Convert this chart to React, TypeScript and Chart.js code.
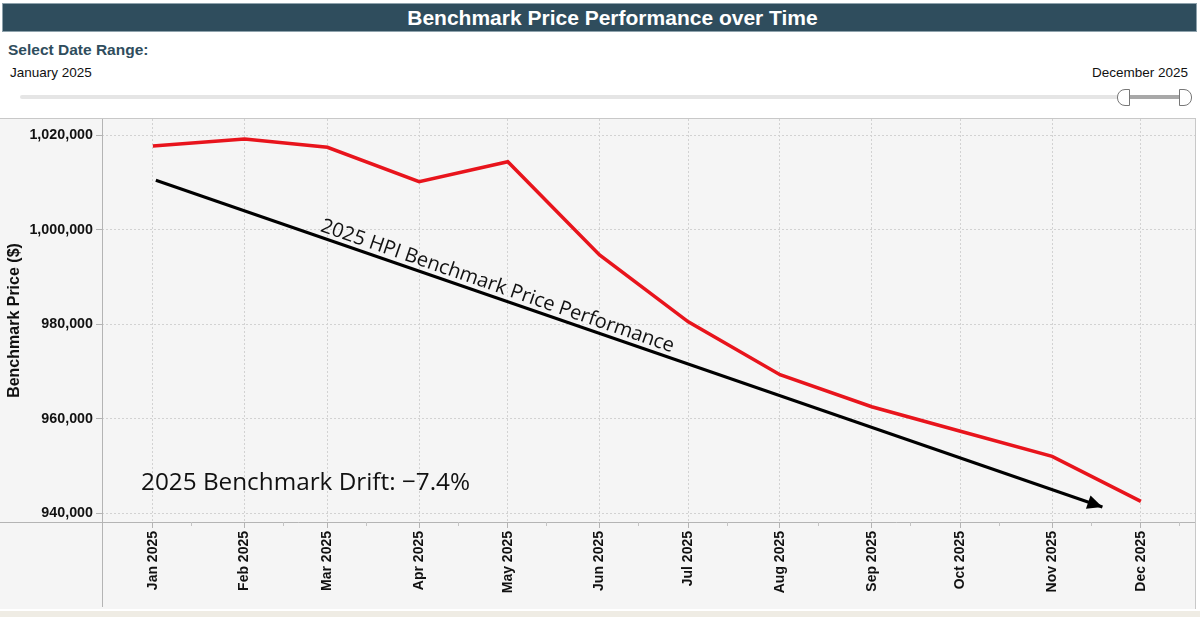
import React, { useEffect, useRef } from "react";
import { Chart, registerables } from "chart.js";

Chart.register(...registerables);

// ---------- data ----------
const monthLabels = [
  "Jan 2025", "Feb 2025", "Mar 2025", "Apr 2025", "May 2025", "Jun 2025",
  "Jul 2025", "Aug 2025", "Sep 2025", "Oct 2025", "Nov 2025", "Dec 2025",
];
const monthDates = [
  "2025-01-01", "2025-02-01", "2025-03-01", "2025-04-01", "2025-05-01", "2025-06-01",
  "2025-07-01", "2025-08-01", "2025-09-01", "2025-10-01", "2025-11-01", "2025-12-01",
];
const benchmarkPrice = [
  1017780, 1019260, 1017500, 1010220, 1014450, 994700,
  980520, 969300, 962530, 957340, 952000, 942480,
];
const trendDates = ["2025-01-02", "2025-11-18"];
const trendValues = [1010520, 941270];
const minorTickDates = [
  "2025-01-14", "2025-02-14", "2025-03-14", "2025-04-14", "2025-05-14", "2025-06-14",
  "2025-07-14", "2025-08-14", "2025-09-14", "2025-10-14", "2025-11-14", "2025-12-14",
];
const yTickValues = [940000, 960000, 980000, 1000000, 1020000];
const yRange = [938100, 1023500];
const xRangeDays = [-17.2, 352.3];

const titleText = "Benchmark Price Performance over Time";
const yAxisTitle = "Benchmark Price ($)";
const trendLabel = "2025 HPI Benchmark Price Performance";
const driftLabel = "2025 Benchmark Drift: \u22127.4%";
const rangeStartLabel = "January 2025";
const rangeEndLabel = "December 2025";

const DAY = 86400000;
const dayOf = (d: string) => (Date.parse(d) - Date.parse("2025-01-01")) / DAY;
const monthDays = monthDates.map(dayOf);

const SANS = "'Liberation Sans', Arial, Helvetica, sans-serif";

const overlayPlugin = {
  id: "overlay",
  afterDatasetsDraw(chart: any) {
    const { ctx, chartArea, scales } = chart;
    const xs = scales.x;
    const ys = scales.y;
    // arrow head on trend line
    const x0 = xs.getPixelForValue(dayOf(trendDates[0]));
    const y0 = ys.getPixelForValue(trendValues[0]);
    const x1 = xs.getPixelForValue(dayOf(trendDates[1]));
    const y1 = ys.getPixelForValue(trendValues[1]);
    const ang = Math.atan2(y1 - y0, x1 - x0);
    ctx.save();
    ctx.fillStyle = "#000";
    const hl = 15, hw = 7;
    ctx.beginPath();
    ctx.moveTo(x1, y1);
    ctx.lineTo(x1 - hl * Math.cos(ang) + hw * Math.sin(ang), y1 - hl * Math.sin(ang) - hw * Math.cos(ang));
    ctx.lineTo(x1 - hl * Math.cos(ang) - hw * Math.sin(ang), y1 - hl * Math.sin(ang) + hw * Math.cos(ang));
    ctx.closePath();
    ctx.fill();

    // rotated label along trend line
    const t = 0.171;
    const off = 5.5;
    const px = x0 + t * (x1 - x0) + off * Math.sin(ang);
    const py = y0 + t * (y1 - y0) - off * Math.cos(ang);
    ctx.translate(px, py);
    ctx.rotate(ang);
    ctx.font = "20px 'Open Sans'";
    ctx.fillStyle = "#111";
    ctx.textAlign = "left";
    ctx.textBaseline = "alphabetic";
    ctx.fillText(trendLabel, 0, 0);
    ctx.restore();

    // drift text
    ctx.save();
    ctx.font = "24.3px 'Open Sans'";
    ctx.fillStyle = "#111";
    ctx.textAlign = "left";
    ctx.textBaseline = "alphabetic";
    ctx.fillText(driftLabel, chartArea.left + 39, chartArea.top + 371);
    ctx.restore();
  },
  afterDraw(chart: any) {
    const { ctx, chartArea, scales } = chart;
    ctx.save();
    ctx.strokeStyle = "#b4b4b4";
    ctx.lineWidth = 1;
    ctx.beginPath();
    ctx.moveTo(0, Math.round(chartArea.bottom) + 0.5);
    ctx.lineTo(chartArea.right, Math.round(chartArea.bottom) + 0.5);
    ctx.moveTo(Math.round(chartArea.left) + 0.5, 0);
    ctx.lineTo(Math.round(chartArea.left) + 0.5, chart.height - 2);
    ctx.stroke();
    // minor ticks
    ctx.strokeStyle = "#c4c4c4";
    ctx.beginPath();
    minorTickDates.forEach((d) => {
      const x = Math.round(scales.x.getPixelForValue(dayOf(d))) + 0.5;
      ctx.moveTo(x, chartArea.bottom);
      ctx.lineTo(x, chartArea.bottom + 4);
    });
    ctx.stroke();
    ctx.restore();
  },
};

export default function App() {
  const canvasRef = useRef<HTMLCanvasElement | null>(null);

  useEffect(() => {
    document.body.style.margin = "0";
    const canvas = canvasRef.current;
    if (!canvas) return;
    const chart = new Chart(canvas, {
      type: "line",
      data: {
        datasets: [
          {
            label: "Benchmark Price",
            data: monthDays.map((d, i) => ({ x: d, y: benchmarkPrice[i] })),
            borderColor: "#e8141c",
            borderWidth: 3.5,
            pointRadius: 0,
            tension: 0,
            fill: false,
          },
          {
            label: "Trend",
            data: trendDates.map((d, i) => ({ x: dayOf(d), y: trendValues[i] })),
            borderColor: "#000",
            borderWidth: 3,
            pointRadius: 0,
            tension: 0,
            fill: false,
          },
        ],
      },
      options: {
        responsive: false,
        animation: false,
        devicePixelRatio: 1,
        layout: { padding: 0 },
        plugins: {
          legend: { display: false },
          tooltip: { enabled: false },
          title: { display: false },
        },
        scales: {
          x: {
            type: "linear",
            min: xRangeDays[0],
            max: xRangeDays[1],
            afterBuildTicks: (s: any) => {
              s.ticks = monthDays.map((v) => ({ value: v }));
            },
            afterFit: (s: any) => {
              s.height = 87;
              s.paddingLeft = 0;
              s.paddingRight = 0;
            },
            ticks: {
              autoSkip: false,
              maxRotation: 90,
              minRotation: 90,
              padding: 3,
              color: "#111",
              font: { family: SANS, size: 14, weight: "bold" },
              callback: (v: any) => {
                const i = monthDays.indexOf(Number(v));
                return i >= 0 ? monthLabels[i] : "";
              },
            },
            grid: {
              color: "#d2d2d2",
              tickColor: "#b4b4b4",
              tickLength: 6,
              tickBorderDash: [],
            },
            border: { display: false, dash: [2, 2] },
          },
          y: {
            type: "linear",
            min: yRange[0],
            max: yRange[1],
            afterBuildTicks: (s: any) => {
              s.ticks = yTickValues.map((v) => ({ value: v }));
            },
            afterFit: (s: any) => {
              s.width = 102;
              s.paddingTop = 0;
              s.paddingBottom = 0;
            },
            ticks: {
              padding: 3,
              color: "#111",
              font: { family: SANS, size: 14.3, weight: "bold" },
              callback: (v: any) => Number(v).toLocaleString("en-US"),
            },
            grid: {
              color: "#d2d2d2",
              tickColor: "#b4b4b4",
              tickLength: 6,
              tickBorderDash: [],
            },
            border: { display: false, dash: [2, 2] },
            title: {
              display: true,
              text: yAxisTitle,
              color: "#111",
              font: { family: SANS, size: 16, weight: "bold" },
              padding: { top: 5, bottom: 0 },
            },
          },
        },
      },
      plugins: [overlayPlugin],
    });
    return () => chart.destroy();
  }, []);

  return (
    <div style={{ position: "fixed", left: 0, top: 0, width: 1200, height: 617, background: "#fff", overflow: "hidden", fontFamily: SANS }}>
      <div
        style={{
          position: "absolute", left: 2, top: 3, width: 1195, height: 29, boxSizing: "border-box",
          background: "#2f4d5d", border: "1px solid #8ea2ac", color: "#fff", fontWeight: "bold",
          fontSize: 21, lineHeight: "27px", textAlign: "center", paddingLeft: 26,
        }}
      >
        {titleText}
      </div>
      <div style={{ position: "absolute", left: 8, top: 41, fontSize: 15.5, lineHeight: "17px", fontWeight: "bold", color: "#2f4d5d" }}>
        Select Date Range:
      </div>
      <div style={{ position: "absolute", left: 10, top: 65, fontSize: 13.5, lineHeight: "16px", color: "#111" }}>
        {rangeStartLabel}
      </div>
      <div style={{ position: "absolute", right: 12, top: 65, fontSize: 13.5, lineHeight: "16px", color: "#111" }}>
        {rangeEndLabel}
      </div>
      <div style={{ position: "absolute", left: 20, top: 95, width: 1105, height: 4, background: "#e5e5e5", borderRadius: 2 }} />
      <div style={{ position: "absolute", left: 1129, top: 95, width: 52, height: 4, background: "#a8a8a8" }} />
      <div style={{ position: "absolute", left: 1117, top: 89, width: 13, height: 17, boxSizing: "border-box", border: "1px solid #777", borderRadius: "8px 0 0 8px", background: "#fff" }} />
      <div style={{ position: "absolute", left: 1179, top: 89, width: 13, height: 17, boxSizing: "border-box", border: "1px solid #777", borderRadius: "0 8px 8px 0", background: "#fff" }} />
      <div
        style={{
          position: "absolute", left: 0, top: 118, width: 1196, height: 491, boxSizing: "border-box",
          background: "#f5f5f5", borderTop: "1px solid #c8c8c8", borderRight: "1px solid #c8c8c8",
        }}
      />
      <canvas ref={canvasRef} width={1195} height={490} style={{ position: "absolute", left: 0, top: 119, display: "block" }} />
      <div style={{ position: "absolute", left: 0, top: 611, width: 1200, height: 6, background: "#efece4" }} />
    </div>
  );
}
